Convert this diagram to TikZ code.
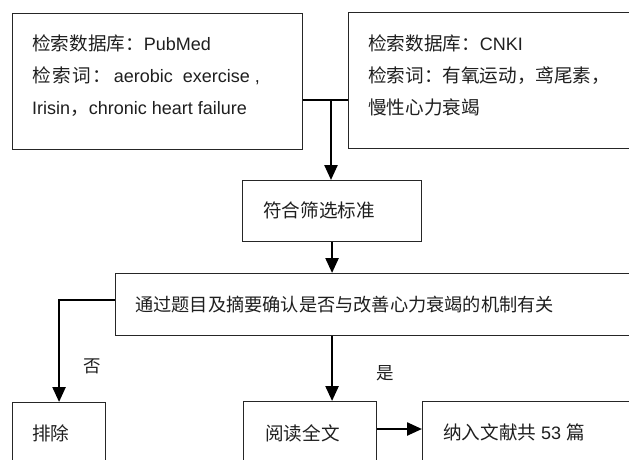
\documentclass[tikz,border=0pt]{standalone}
\usepackage{fontspec}
\setmainfont{Liberation Sans}
\newfontfamily\cjk{Noto Sans CJK SC}
\usetikzlibrary{arrows.meta}
\newcommand{\zh}[1]{{\fontsize{18.6}{22}\selectfont\cjk #1}}
\newcommand{\zhb}[1]{{\fontsize{18.2}{22}\selectfont\cjk #1}}
\begin{document}
\begin{tikzpicture}[x=1pt,y=-1pt,
 box/.style={draw=black!85, line width=1.1pt, rectangle, anchor=north west, inner sep=0pt},
 txt/.style={anchor=base west, inner sep=0pt, font=\fontsize{18}{22}\selectfont, text=black!88},
 lbl/.style={anchor=base, inner sep=0pt, font=\fontsize{17.5}{20}\selectfont\cjk, text=black!88},
 conn/.style={line width=2.4pt, draw=black},
 arr/.style={conn, -{Triangle[length=15pt,width=13pt]}}]
\useasboundingbox (0,0) rectangle (629,459);
\clip (0,0) rectangle (629,459);
\fill[white] (0,0) rectangle (629,459);
% boxes
\node[box, minimum width=290pt, minimum height=136pt] (db1) at (12,13) {};
\node[box, minimum width=320pt, minimum height=136pt] (db2) at (348,12) {};
\node[box, minimum width=179pt, minimum height=61pt] (screen) at (242,180) {};
\node[box, minimum width=560pt, minimum height=62pt] (check) at (115,273) {};
\node[box, minimum width=93pt, minimum height=100pt] (excl) at (12,402) {};
\node[box, minimum width=133pt, minimum height=100pt] (read) at (243,401) {};
\node[box, minimum width=260pt, minimum height=100pt] (incl) at (422,401) {};
% texts
\node[txt] (t1a) at (32,50) {\zh{检索数据库：}PubMed};
\node[txt] (t1b) at (32,82) {\zh{检\hspace{1.4pt}索\hspace{1.4pt}词\hspace{1.4pt}：}\hspace{3pt}aerobic\hspace{10pt}exercise\hspace{5pt},};
\node[txt] (t1c) at (32,114) {Irisin\zh{，}chronic heart failure};
\node[txt] (t2a) at (368,50) {\zh{检索数据库：}CNKI};
\node[txt] (t2b) at (368,82) {\zh{检索词：有氧运动，鸢尾素，}};
\node[txt] (t2c) at (368,114) {\zh{慢性心力衰竭}};
\node[txt] (t3) at (263,217) {\zh{符合筛选标准}};
\node[txt] (t4) at (135,311.5) {\zhb{通过题目及摘要确认是否与改善心力衰竭的机制有关}};
\node[txt] (t5) at (32,440) {\zh{排除}};
\node[txt] (t6) at (265,440) {\zh{阅读全文}};
\node[txt] (t7) at (443,439) {\zh{纳入文献共} 53 \zh{篇}};
% connectors
\coordinate (j) at (331,100);
\draw[conn] (db1.east |- j) -- (db2.west |- j);
\draw[arr] (j) -- (j |- screen.north);
\draw[arr] (screen.south) -- (screen.south |- check.north);
\draw[arr] (screen.south |- check.south) -- (screen.south |- read.north);
\coordinate (k) at (58,300);
\draw[arr] (check.west |- k) -| (excl.north);
\coordinate (m) at (0,429);
\draw[arr] (read.east |- m) -- (incl.west |- m);
% labels
\node[lbl] (no) at (92,372.5) {否};
\node[lbl] (yes) at (385,379.5) {是};
\end{tikzpicture}
\end{document}
